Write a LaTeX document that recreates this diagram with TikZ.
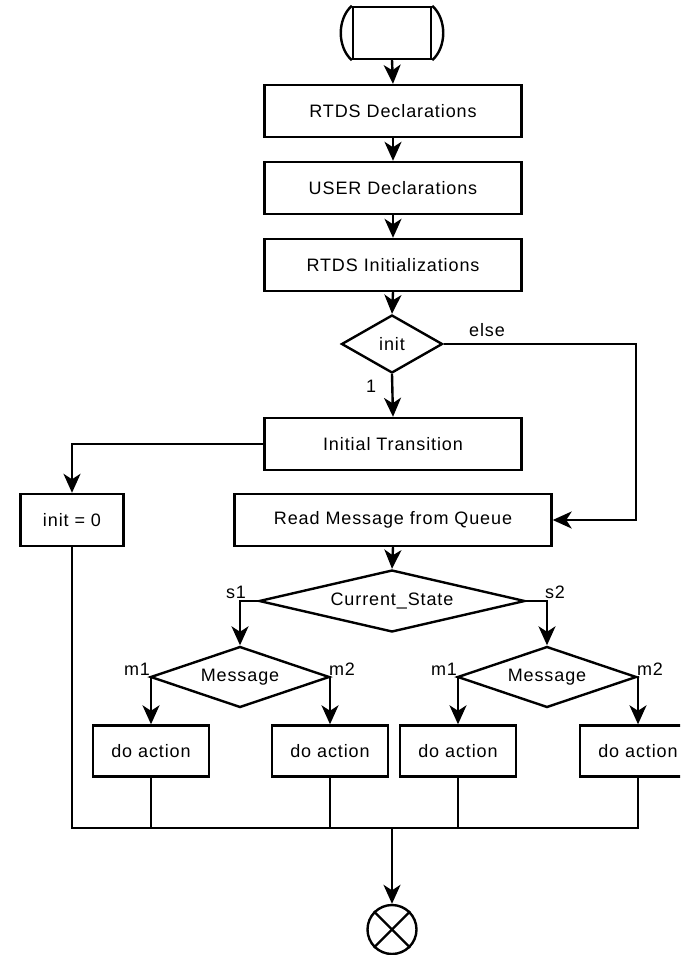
\documentclass[tikz,border=0pt]{standalone}
\usepackage{fontspec}
\setmainfont{Liberation Sans}[LetterSpace=5]
\usetikzlibrary{arrows.meta,shapes.geometric}
\begin{document}
\begin{tikzpicture}[x=1pt,y=-1pt,line width=2.4pt,
  every node/.style={font=\fontsize{18}{21}\selectfont},
  box/.style={draw,rectangle,inner sep=0pt},
  dia/.style={draw,diamond,inner sep=0pt},
  lbl/.style={inner sep=0pt},
  arr/.style={-{Stealth[length=19pt,width=17pt,inset=5.5pt]}}]
\clip (0,0) rectangle (680,955);
\useasboundingbox (0,0) rectangle (680,955);
% start symbol
\node[box,minimum width=78pt,minimum height=52pt] (start) at (392,33) {};
\draw (start.north west) .. controls +(-14.7,13) and +(-14.7,-13) .. (start.south west);
\draw (start.north east) .. controls +(14.7,13) and +(14.7,-13) .. (start.south east);
% boxes
\node[box,minimum width=257pt,minimum height=52pt] (rd) at (393,111) {RTDS Declarations};
\node[box,minimum width=257pt,minimum height=52pt] (ud) at (393,188) {USER Declarations};
\node[box,minimum width=257pt,minimum height=52pt] (ri) at (393,265) {RTDS Initializations};
\node[dia,minimum width=101pt,minimum height=58pt,aspect=1.74] (init) at (392,344) {init};
\node[box,minimum width=257pt,minimum height=52pt] (it) at (393,444) {Initial Transition};
\node[box,minimum width=103pt,minimum height=52pt] (i0) at (72,520) {init = 0};
\node[box,minimum width=317pt,minimum height=52pt] (rm) at (393,520) {Read Message from Queue};
\node[dia,minimum width=266pt,minimum height=62pt,aspect=4.29] (cs) at (392,601) {Current\_State};
\node[dia,minimum width=179pt,minimum height=61pt,aspect=2.93] (mL) at (240,677) {Message};
\node[dia,minimum width=179pt,minimum height=61pt,aspect=2.93] (mR) at (547,677) {Message};
\node[box,minimum width=116pt,minimum height=51pt] (a1) at (151,751) {do action};
\node[box,minimum width=116pt,minimum height=51pt] (a2) at (330,751) {do action};
\node[box,minimum width=116pt,minimum height=51pt] (a3) at (458,751) {do action};
\node[box,minimum width=116pt,minimum height=51pt] (a4) at (638,751) {do action};
% end symbol
\node[draw,circle,minimum size=49pt,inner sep=0pt] (end) at (392,929.5) {};
\draw (end.north west) -- (end.south east);
\draw (end.north east) -- (end.south west);
% labels
\node[lbl] (lelse) at (487,330) {else};
\node[lbl] (lone) at (371,386) {1};
\node[lbl] (ls1) at (236,592) {s1};
\node[lbl] (ls2) at (555,592) {s2};
\node[lbl] (lm1a) at (137,669) {m1};
\node[lbl] (lm2a) at (342,669) {m2};
\node[lbl] (lm1b) at (444,669) {m1};
\node[lbl] (lm2b) at (650,669) {m2};
% coordinates
\coordinate (ec) at (636,344);
\coordinate (j) at (392,828);
% connectors
\draw[arr] (start.south) -- (rd.north);
\draw[arr] (rd.south) -- (ud.north);
\draw[arr] (ud.south) -- (ri.north);
\draw[arr] (ri.south) -- (init.north);
\draw[arr] (init.south) -- (it.north);
\draw[arr] (init.east) -- (ec) |- (rm.east);
\draw[arr] (it.west) -| (i0.north);
\draw[arr] (rm.south) -- (cs.north);
\draw[arr] (cs.west) -| (mL.north);
\draw[arr] (cs.east) -| (mR.north);
\draw[arr] (mL.west) -| (a1.north);
\draw[arr] (mL.east) -| (a2.north);
\draw[arr] (mR.west) -| (a3.north);
\draw[arr] (mR.east) -| (a4.north);
\draw (i0.south) -- (i0.south |- j) -- (a4.south |- j) -- (a4.south);
\draw (a1.south) -- (a1.south |- j);
\draw (a2.south) -- (a2.south |- j);
\draw (a3.south) -- (a3.south |- j);
\draw[arr] (j) -- (end.north);
\end{tikzpicture}
\end{document}
